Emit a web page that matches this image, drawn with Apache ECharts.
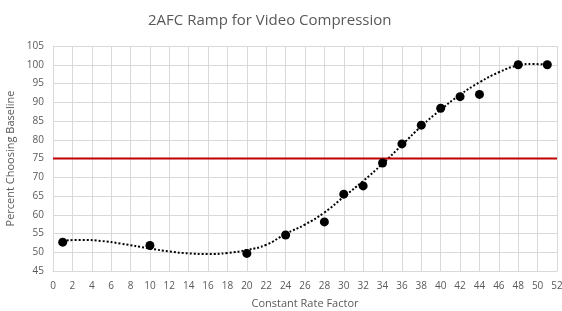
<!DOCTYPE html>
<html>
<head>
<meta charset="utf-8">
<script src="https://cdn.jsdelivr.net/npm/echarts@6/dist/echarts.min.js"></script>
<style>
html, body { margin: 0; padding: 0; background: #fff; }
#main { width: 562px; height: 311px; }
</style>
</head>
<body>
<div id="main"></div>
<script>
// measured points
var crf = [1, 10, 20, 24, 28, 30, 32, 34, 36, 38, 40, 42, 44, 48, 51];
var pct = [52.7, 51.8, 49.7, 54.6, 58.1, 65.5, 67.7, 73.8, 78.9, 83.9, 88.4, 91.5, 92.1, 100, 100];

// trendline
var trendX = [1, 3, 5, 7, 10, 12, 14, 16, 18, 20, 22, 24, 26, 28, 30, 32, 34, 36, 38, 40, 42, 44, 46, 48, 49.5, 51];
var trendY = [53.1, 53.3, 53.0, 52.3, 51.0, 50.2, 49.7, 49.5, 49.8, 50.6, 52.0, 54.9, 57.4, 60.6, 64.8, 69.0, 73.6, 78.6, 83.6, 88.0, 92.0, 95.3, 98.0, 99.8, 100.2, 100.0];

var threshold = 75;
var textColor = '#595959';
var font = 'Open Sans';

(function(){
	var scatterData = [];
	crf.forEach(function(x, i){
		scatterData.push([x, pct[i]]);
	});
	var trendData = [];
	trendX.forEach(function(x, i){
		trendData.push([x, trendY[i]]);
	});

	var option = {
		animation: false,
		title: {
			text: '2AFC Ramp for Video Compression',
			left: 143,
			top: 8,
			textStyle: { fontFamily: font, fontSize: 15, fontWeight: 'normal', color: textColor }
		},
		grid: { left: 53, right: 5, top: 46, bottom: 40, outerBoundsMode: 'none' },
		xAxis: {
			type: 'value',
			min: 0, max: 52, interval: 2,
			name: 'Constant Rate Factor',
			nameLocation: 'middle',
			nameGap: 27,
			nameTextStyle: { fontFamily: font, fontSize: 11, color: textColor },
			axisLine: { show: true, lineStyle: { color: '#d9d9d9' } },
			axisTick: { show: false },
			axisLabel: { fontFamily: font, fontSize: 10, color: textColor, margin: 10 },
			splitLine: { show: true, lineStyle: { color: '#d9d9d9' } }
		},
		yAxis: {
			type: 'value',
			min: 45, max: 105, interval: 5,
			name: 'Percent Choosing Baseline',
			nameLocation: 'middle',
			nameGap: 34,
			nameTextStyle: { fontFamily: font, fontSize: 11, color: textColor },
			axisLine: { show: true, lineStyle: { color: '#d9d9d9' } },
			axisTick: { show: false },
			axisLabel: { fontFamily: font, fontSize: 10, color: textColor, margin: 9 },
			splitLine: { show: true, lineStyle: { color: '#d9d9d9' } }
		},
		series: [
			{
				name: 'trend',
				type: 'line',
				data: trendData,
				smooth: true,
				showSymbol: false,
				lineStyle: { color: '#000', width: 2, type: [2, 2] },
				z: 2
			},
			{
				name: 'threshold',
				type: 'line',
				data: [[0, threshold], [52, threshold]],
				showSymbol: false,
				lineStyle: { color: '#c00000', width: 2 },
				z: 3
			},
			{
				name: 'data',
				type: 'scatter',
				data: scatterData,
				symbolSize: 9,
				itemStyle: { color: '#000', opacity: 1 },
				z: 4
			}
		]
	};

	var myChart = echarts.init(document.getElementById('main'));
	myChart.setOption(option);
})();
</script>
</body>
</html>
